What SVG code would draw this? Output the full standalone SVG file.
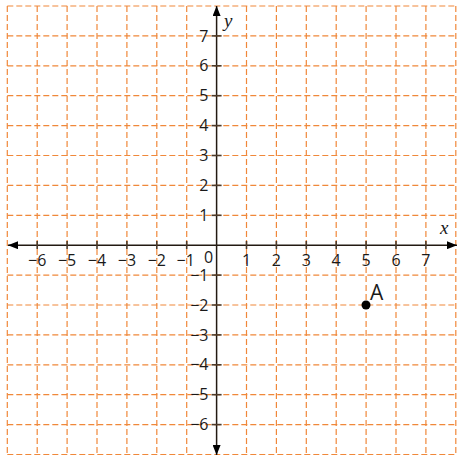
<svg xmlns="http://www.w3.org/2000/svg" width="473" height="460" viewBox="0 0 473 460">
<style>
.grid line{stroke:#f0883a;stroke-width:1.2;stroke-dasharray:6 3;fill:none}
.axis{stroke:#231a12;stroke-width:1.5;fill:none}
.tick{stroke:#4d3b2b;stroke-width:1.6}
.num{font-family:"Open Sans","Liberation Sans",sans-serif;font-size:16px;fill:#1a1a1a}
.var{font-family:"Liberation Serif",serif;font-style:italic;font-size:19px;fill:#1a1a1a}
</style>
<defs>
<marker id="arr" viewBox="0 0 10 8" refX="10" refY="4" markerWidth="10" markerHeight="8" markerUnits="userSpaceOnUse" orient="auto">
<path d="M0,0 L10,4 L0,8 Z" fill="#000"/>
</marker>
</defs>
<rect width="473" height="460" fill="#fff"/>
<g id="grid" class="grid">
<line x1="7.3" y1="6" x2="7.3" y2="454.5"/>
<line x1="37.2" y1="6" x2="37.2" y2="454.5"/>
<line x1="67.1" y1="6" x2="67.1" y2="454.5"/>
<line x1="97" y1="6" x2="97" y2="454.5"/>
<line x1="126.9" y1="6" x2="126.9" y2="454.5"/>
<line x1="156.8" y1="6" x2="156.8" y2="454.5"/>
<line x1="186.7" y1="6" x2="186.7" y2="454.5"/>
<line x1="246.5" y1="6" x2="246.5" y2="454.5"/>
<line x1="276.4" y1="6" x2="276.4" y2="454.5"/>
<line x1="306.3" y1="6" x2="306.3" y2="454.5"/>
<line x1="336.2" y1="6" x2="336.2" y2="454.5"/>
<line x1="366.1" y1="6" x2="366.1" y2="454.5"/>
<line x1="396" y1="6" x2="396" y2="454.5"/>
<line x1="425.9" y1="6" x2="425.9" y2="454.5"/>
<line x1="455.8" y1="6" x2="455.8" y2="454.5"/>
<line x1="7.3" y1="6" x2="455.8" y2="6"/>
<line x1="7.3" y1="35.9" x2="455.8" y2="35.9"/>
<line x1="7.3" y1="65.8" x2="455.8" y2="65.8"/>
<line x1="7.3" y1="95.7" x2="455.8" y2="95.7"/>
<line x1="7.3" y1="125.6" x2="455.8" y2="125.6"/>
<line x1="7.3" y1="155.5" x2="455.8" y2="155.5"/>
<line x1="7.3" y1="185.4" x2="455.8" y2="185.4"/>
<line x1="7.3" y1="215.3" x2="455.8" y2="215.3"/>
<line x1="7.3" y1="275.1" x2="455.8" y2="275.1"/>
<line x1="7.3" y1="305" x2="455.8" y2="305"/>
<line x1="7.3" y1="334.9" x2="455.8" y2="334.9"/>
<line x1="7.3" y1="364.8" x2="455.8" y2="364.8"/>
<line x1="7.3" y1="394.7" x2="455.8" y2="394.7"/>
<line x1="7.3" y1="424.6" x2="455.8" y2="424.6"/>
<line x1="7.3" y1="454.5" x2="455.8" y2="454.5"/>
</g>
<g id="connectors">
<line class="axis" x1="216.6" y1="245.2" x2="8" y2="245.2" marker-end="url(#arr)"/>
<line class="axis" x1="216.6" y1="245.2" x2="457" y2="245.2" marker-end="url(#arr)"/>
<line class="axis" x1="216.6" y1="245.2" x2="216.6" y2="6" marker-end="url(#arr)"/>
<line class="axis" x1="216.6" y1="245.2" x2="216.6" y2="455" marker-end="url(#arr)"/>
</g>
<g id="ticks" class="tick">
<line x1="37.2" y1="241" x2="37.2" y2="249"/>
<line x1="67.1" y1="241" x2="67.1" y2="249"/>
<line x1="97" y1="241" x2="97" y2="249"/>
<line x1="126.9" y1="241" x2="126.9" y2="249"/>
<line x1="156.8" y1="241" x2="156.8" y2="249"/>
<line x1="186.7" y1="241" x2="186.7" y2="249"/>
<line x1="246.5" y1="241" x2="246.5" y2="249"/>
<line x1="276.4" y1="241" x2="276.4" y2="249"/>
<line x1="306.3" y1="241" x2="306.3" y2="249"/>
<line x1="336.2" y1="241" x2="336.2" y2="249"/>
<line x1="366.1" y1="241" x2="366.1" y2="249"/>
<line x1="396" y1="241" x2="396" y2="249"/>
<line x1="425.9" y1="241" x2="425.9" y2="249"/>
<line x1="211.6" y1="35.9" x2="221.6" y2="35.9"/>
<line x1="211.6" y1="65.8" x2="221.6" y2="65.8"/>
<line x1="211.6" y1="95.7" x2="221.6" y2="95.7"/>
<line x1="211.6" y1="125.6" x2="221.6" y2="125.6"/>
<line x1="211.6" y1="155.5" x2="221.6" y2="155.5"/>
<line x1="211.6" y1="185.4" x2="221.6" y2="185.4"/>
<line x1="211.6" y1="215.3" x2="221.6" y2="215.3"/>
<line x1="211.6" y1="275.1" x2="221.6" y2="275.1"/>
<line x1="211.6" y1="305" x2="221.6" y2="305"/>
<line x1="211.6" y1="334.9" x2="221.6" y2="334.9"/>
<line x1="211.6" y1="364.8" x2="221.6" y2="364.8"/>
<line x1="211.6" y1="394.7" x2="221.6" y2="394.7"/>
<line x1="211.6" y1="424.6" x2="221.6" y2="424.6"/>
</g>
<g id="x-labels" class="num" text-anchor="middle">
<text x="37.2" y="266">−6</text>
<text x="67.1" y="266">−5</text>
<text x="97" y="266">−4</text>
<text x="126.9" y="266">−3</text>
<text x="156.8" y="266">−2</text>
<text x="185.7" y="266">−1</text>
<text x="246.5" y="266">1</text>
<text x="276.4" y="266">2</text>
<text x="306.3" y="266">3</text>
<text x="336.2" y="266">4</text>
<text x="366.1" y="266">5</text>
<text x="396" y="266">6</text>
<text x="425.9" y="266">7</text>
</g>
<g id="y-labels" class="num" text-anchor="end">
<text x="208.5" y="41.5">7</text>
<text x="208.5" y="71.4">6</text>
<text x="208.5" y="101.3">5</text>
<text x="208.5" y="131.2">4</text>
<text x="208.5" y="161.1">3</text>
<text x="208.5" y="191">2</text>
<text x="208.5" y="220.9">1</text>
<text x="208.5" y="281">−1</text>
<text x="208.5" y="310.6">−2</text>
<text x="208.5" y="340.5">−3</text>
<text x="208.5" y="370.4">−4</text>
<text x="208.5" y="400.3">−5</text>
<text x="208.5" y="430.2">−6</text>
</g>
<g id="origin"><text class="num" x="208.5" y="262.5" text-anchor="middle">0</text></g>
<g id="x-name"><text class="var" x="440" y="234">x</text></g>
<g id="y-name"><text class="var" x="224" y="27">y</text></g>
<g id="point-A">
<circle cx="366" cy="305" r="4.5" fill="#000"/>
<text class="num" x="370" y="299.5" style="font-size:21px">A</text>
</g>
</svg>
